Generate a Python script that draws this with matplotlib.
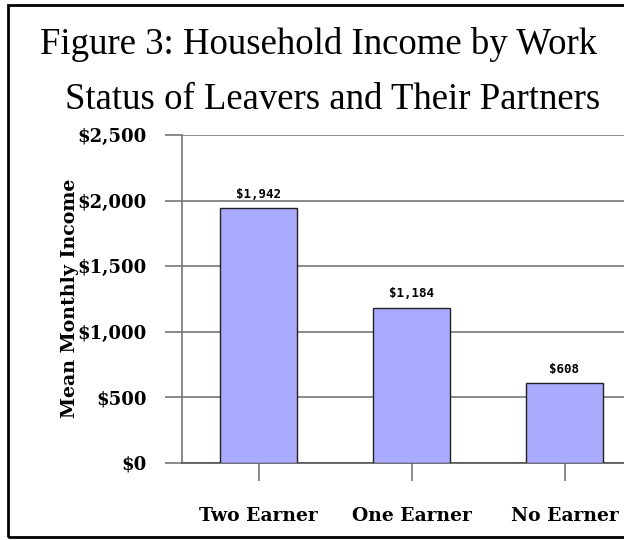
import matplotlib
matplotlib.use('Agg')
import matplotlib.pyplot as plt
from matplotlib.patches import Rectangle

categories = ['Two Earner', 'One Earner', 'No Earner']
income = [1942, 1184, 608]
value_labels = ['$1,942', '$1,184', '$608']
yticks = [0, 500, 1000, 1500, 2000, 2500]
ytick_labels = ['$0', '$500', '$1,000', '$1,500', '$2,000', '$2,500']

W, H = 624, 540
fig = plt.figure(figsize=(W / 100, H / 100), dpi=100)

# outer frame (right side runs off the picture)
fig.patches.append(Rectangle((8 / W, 3 / H), 1.0, 532 / H, transform=fig.transFigure,
                             fill=False, edgecolor='black', linewidth=2))

# title
fig.text(318 / W, 1 - 45 / H, 'Figure 3: Household Income by Work',
         ha='center', va='center', fontsize=26.5, family='Liberation Serif')
fig.text(333 / W, 1 - 100 / H, 'Status of Leavers and Their Partners',
         ha='center', va='center', fontsize=26.5, family='Liberation Serif')

# axes: left at x=182, zero at y=463, top at y=135, right edge past the image
ax = fig.add_axes([182 / W, 1 - 463 / H, 459 / W, 328 / H])
x = range(len(categories))
ax.bar(x, income, width=0.5, color='#aaaaff', edgecolor='#222222', linewidth=1, zorder=3)
for i, v in enumerate(income):
    ax.text(i, v + 55, value_labels[i], ha='center', va='bottom', fontsize=9,
            family='DejaVu Sans Mono', fontweight='bold')

ax.set_xlim(-0.5, 2.5)
ax.set_ylim(0, 2500)
ax.set_yticks(yticks)
ax.set_yticklabels(ytick_labels, family='DejaVu Serif', fontweight='bold', fontsize=13)
ax.set_xticks(list(x))
ax.set_xticklabels(categories, family='DejaVu Serif', fontweight='bold', fontsize=13.5)
ax.tick_params(axis='y', length=12.5, width=1.2, color='#777777', pad=13)
ax.tick_params(axis='x', length=13, width=1.2, color='#777777', pad=19)
ax.yaxis.grid(True, color='#777777', linewidth=1.2, zorder=0)
for s in ['top', 'right']:
    ax.spines[s].set_visible(False)
ax.spines['left'].set_color('#777777')
ax.spines['left'].set_linewidth(1.2)
ax.spines['bottom'].set_color('#555555')
ax.spines['bottom'].set_linewidth(1.2)

fig.text(70 / W, 1 - 298 / H, 'Mean Monthly Income', rotation=90, ha='center', va='center',
         fontsize=13.7, family='DejaVu Serif', fontweight='bold')

fig.savefig('out.png', dpi=100)
